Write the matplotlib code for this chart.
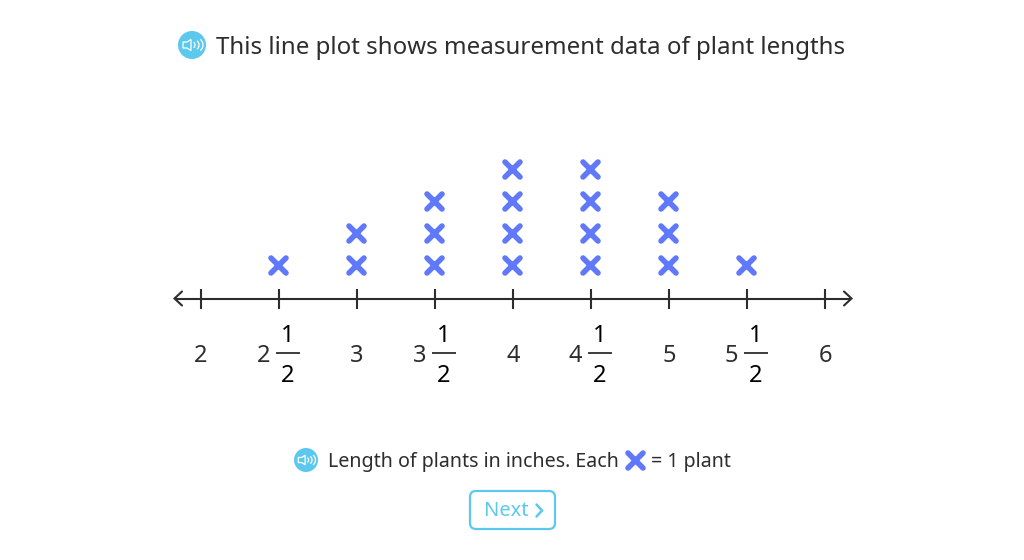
import matplotlib
matplotlib.use("Agg")
import matplotlib.pyplot as plt
from matplotlib.markers import MarkerStyle
from matplotlib.patches import Circle, FancyBboxPatch, Polygon, Arc
from matplotlib.transforms import blended_transform_factory

plt.rcParams['font.family'] = ['Noto Sans', 'DejaVu Sans']

# Plant lengths in inches and how many plants have each length
lengths = [2.5, 3.0, 3.5, 4.0, 4.5, 5.0, 5.5]
plant_counts = [1, 2, 3, 4, 4, 3, 1]
tick_values = [2, 2.5, 3, 3.5, 4, 4.5, 5, 5.5, 6]
tick_whole = ['2', '2', '3', '3', '4', '4', '5', '5', '6']
tick_has_half = [False, True, False, True, False, True, False, True, False]
title_text = 'This line plot shows measurement data of plant lengths'
caption_left = 'Length of plants in inches. Each'
caption_right = '= 1 plant'
button_text = 'Next'

INK = '#2d2d2d'
BLUE = '#6079fb'
SKY = '#5cc8ee'
PX_PER_INCH = 156

fig = plt.figure(figsize=(10.24, 5.6), dpi=100, facecolor='white')

# Page layer in pixel units, y running downwards
page = fig.add_axes([0, 0, 1, 1])
page.set_xlim(0, 1024)
page.set_ylim(560, 0)
page.axis('off')

# Data layer: one unit of x is 156 px, one stacked plant is 32 px
ax = fig.add_axes([0, 0, 1, 1])
ax.patch.set_alpha(0)
ax.axis('off')
ax.set_xlim(2 - 201 / PX_PER_INCH, 2 + (1024 - 201) / PX_PER_INCH)
ax.set_ylim(1 - (560 - 265) / 32, 1 + 265 / 32)
x_on_data = blended_transform_factory(ax.transData, page.transData)

x_mark = MarkerStyle('x', capstyle='round')
for length, count in zip(lengths, plant_counts):
    ax.plot([length - 0.004] * count, list(range(1, count + 1)), linestyle='none',
            marker=x_mark, markersize=10.8, markeredgewidth=4.0, color=BLUE, zorder=3)


def speaker(cx, cy, r):
    """Round audio button with a white outlined speaker."""
    s = r / 14
    page.add_patch(Circle((cx, cy), r, color=SKY, lw=0))
    page.add_patch(Polygon([(cx - 9 * s, cy - 3 * s), (cx - 5 * s, cy - 3 * s),
                            (cx - 1 * s, cy - 5.5 * s), (cx - 1 * s, cy + 5.5 * s),
                            (cx - 5 * s, cy + 3 * s), (cx - 9 * s, cy + 3 * s)],
                           closed=True, fc='none', ec='white', lw=0.9))
    for d, h in [(0, 6), (2.5, 9), (5, 12)]:
        page.add_patch(Arc((cx + d * s, cy), h * s, h * 1.1 * s, theta1=-60, theta2=60,
                           ec='white', lw=0.9))


speaker(192, 45, 14)
page.text(216, 54, title_text, fontsize=17.33, color=INK, ha='left', va='baseline')

# Number line with arrowheads on both ends
page.plot([175, 851], [298.5, 298.5], color=INK, lw=1.5, solid_capstyle='butt')
for tip, sign in [(174.5, 1), (851.5, -1)]:
    page.plot([tip + sign * 7.5, tip, tip + sign * 7.5], [291.5, 298.5, 305.5], color=INK, lw=1.5,
              solid_joinstyle='miter', solid_capstyle='round')

for value, whole, half in zip(tick_values, tick_whole, tick_has_half):
    ax.plot([value, value], [1 - 23.5 / 32, 1 - 43.5 / 32], color=INK, lw=1.5, solid_capstyle='butt')
    if half:
        ax.text(value - 15.5 / PX_PER_INCH, 362, whole, transform=x_on_data, fontsize=17,
                color=INK, ha='center', va='baseline')
        ax.text(value + 9 / PX_PER_INCH, 342, '1', transform=x_on_data, fontsize=17,
                color='black', ha='center', va='baseline')
        ax.plot([value - 3 / PX_PER_INCH, value + 21 / PX_PER_INCH], [352.5, 352.5],
                transform=x_on_data, color=INK, lw=1.3, solid_capstyle='butt')
        ax.text(value + 9 / PX_PER_INCH, 381.5, '2', transform=x_on_data, fontsize=17,
                color='black', ha='center', va='baseline')
    else:
        ax.text(value, 362, whole, transform=x_on_data, fontsize=17, color=INK,
                ha='center', va='baseline')

# Caption with its inline key
speaker(306, 460, 12)
page.text(328, 467, caption_left, fontsize=14.15, color=INK, ha='left', va='baseline')
page.plot([635], [460], linestyle='none', marker=x_mark, markersize=10.8, markeredgewidth=4.0, color=BLUE)
page.text(651, 467, caption_right, fontsize=14.1, color=INK, ha='left', va='baseline')

# Next button
page.add_patch(FancyBboxPatch((470, 491), 85, 38, boxstyle='round,pad=0,rounding_size=6',
                              fc='white', ec=SKY, lw=1.6))
page.text(484.5, 516, button_text, fontsize=14.4, color=SKY, ha='left', va='baseline')
page.plot([536.5, 542, 536.5], [504.5, 510.5, 516.5], color=SKY, lw=1.8,
          solid_capstyle='round', solid_joinstyle='miter')

fig.savefig('out.png', dpi=100, facecolor='white')
